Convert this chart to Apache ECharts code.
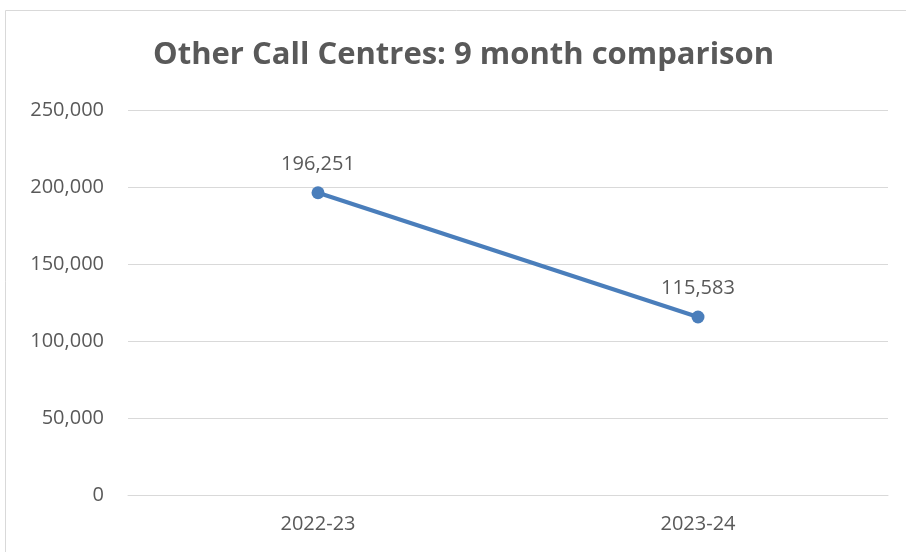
<!DOCTYPE html>
<html>
<head>
<meta charset="utf-8">
<script src="https://cdn.jsdelivr.net/npm/echarts@6/dist/echarts.min.js"></script>
<style>
	html, body { margin: 0; padding: 0; background: #fff; }
	#chart { width: 906px; height: 552px; }
</style>
</head>
<body>
<div id="chart"></div>
<script>
// 数据
const categories = ["2022-23", "2023-24"];
const callValues = [196251, 115583];
const yTicks = [0, 50000, 100000, 150000, 200000, 250000];

const textColor = "#595959";
const fontFamily = "'Open Sans', 'Noto Sans', sans-serif";

const myChart = echarts.init(document.getElementById("chart"));
const option = {
	backgroundColor: "#fff",
	textStyle: { fontFamily: fontFamily },
	title: {
		text: "Other Call Centres: 9 month comparison",
		left: 148,
		top: 35,
		textStyle: {
			color: textColor,
			fontSize: 31,
			fontWeight: "bold",
			fontFamily: fontFamily
		}
	},
	graphic: [
		{
			type: "rect",
			z: -1,
			shape: { x: 5.5, y: 10.5, width: 920, height: 560 },
			style: { fill: "none", stroke: "#d9d9d9", lineWidth: 1 }
		}
	],
	grid: {
		left: 128,
		right: 18,
		top: 110,
		bottom: 57
	},
	xAxis: {
		type: "category",
		data: categories,
		boundaryGap: true,
		axisLine: { show: true, lineStyle: { color: "#d9d9d9", width: 1 } },
		axisTick: { show: false },
		axisLabel: { color: textColor, fontSize: 20, margin: 19 }
	},
	yAxis: {
		type: "value",
		min: yTicks[0],
		max: yTicks[yTicks.length - 1],
		interval: 50000,
		axisLine: { show: false },
		axisTick: { show: false },
		splitLine: { lineStyle: { color: "#d9d9d9", width: 1 } },
		axisLabel: {
			color: textColor,
			fontSize: 20,
			margin: 24,
			formatter: v => v.toLocaleString("en-US")
		}
	},
	series: [
		{
			type: "line",
			data: callValues,
			symbol: "circle",
			symbolSize: 13,
			lineStyle: { color: "#4a7ebb", width: 4 },
			itemStyle: { color: "#4a7ebb" },
			label: {
				show: true,
				position: "top",
				distance: 12,
				color: textColor,
				fontSize: 20,
				formatter: p => p.value.toLocaleString("en-US")
			},
			animation: false
		}
	],
	animation: false
};
myChart.setOption(option);
</script>
</body>
</html>
